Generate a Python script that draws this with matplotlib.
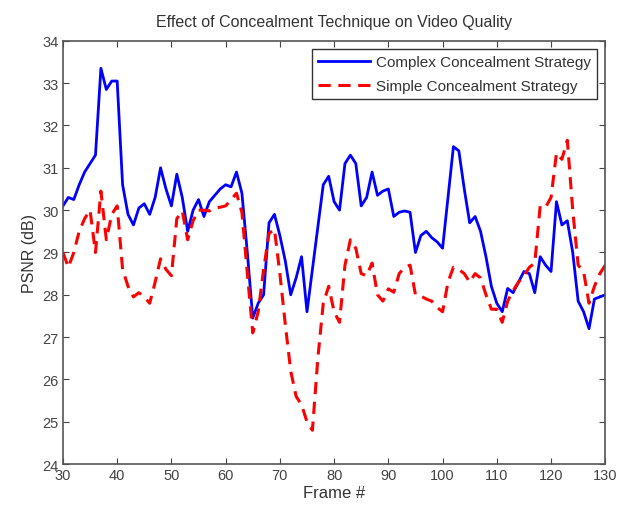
import numpy as np
import matplotlib
matplotlib.use('Agg')
import matplotlib.pyplot as plt

plt.rcParams['font.family'] = ['Liberation Sans', 'DejaVu Sans']

# 帧号
frames = np.arange(30, 131)

# 复杂隐藏策略 PSNR (dB)
complex_psnr = [30.1, 30.3, 30.25, 30.6, 30.9, 31.1, 31.3, 33.35, 32.85, 33.05,
                33.05, 30.6, 29.9, 29.65, 30.05, 30.15, 29.9, 30.3, 31.0, 30.5,
                30.1, 30.85, 30.3, 29.5, 30.0, 30.25, 29.85, 30.2, 30.35, 30.5,
                30.6, 30.55, 30.9, 30.4, 29.0, 27.45, 27.8, 28.0, 29.7, 29.9,
                29.4, 28.8, 28.0, 28.4, 28.9, 27.6, 28.6, 29.6, 30.6, 30.8,
                30.2, 30.0, 31.1, 31.3, 31.1, 30.1, 30.3, 30.9, 30.35, 30.45,
                30.5, 29.85, 29.95, 29.98, 29.95, 29.0, 29.4, 29.5, 29.35, 29.25,
                29.1, 30.3, 31.5, 31.4, 30.5, 29.7, 29.85, 29.5, 28.9, 28.2,
                27.8, 27.6, 28.15, 28.05, 28.3, 28.55, 28.5, 28.05, 28.9, 28.7,
                28.55, 30.2, 29.65, 29.75, 29.0, 27.85, 27.6, 27.2, 27.9, 27.95,
                28.0]

# 简单隐藏策略 PSNR (dB)
simple_psnr = [29.0, 28.65, 29.0, 29.5, 29.8, 30.0, 29.0, 30.45, 29.3, 29.9,
               30.1, 28.6, 28.2, 27.95, 28.05, 27.95, 27.8, 28.3, 28.85, 28.6,
               28.45, 29.8, 29.98, 29.3, 29.75, 30.0, 30.0, 29.98, 30.05, 30.07,
               30.1, 30.25, 30.4, 29.95, 28.5, 27.1, 27.6, 28.6, 29.45, 29.55,
               28.5, 27.3, 26.2, 25.6, 25.4, 25.0, 24.8, 26.5, 27.8, 28.2,
               27.6, 27.35, 28.7, 29.3, 29.1, 28.5, 28.45, 28.75, 28.0, 27.85,
               28.14, 28.06, 28.5, 28.65, 28.7, 28.0, 27.97, 27.9, 27.85, 27.7,
               27.6, 28.3, 28.65, 28.6, 28.5, 28.3, 28.5, 28.4, 28.0, 27.66,
               27.66, 27.35, 27.85, 28.1, 28.3, 28.45, 28.65, 28.75, 30.1, 30.07,
               30.3, 31.35, 31.2, 31.65, 30.0, 28.7, 28.55, 27.8, 28.2, 28.5,
               28.7]

x_ticks = np.arange(30, 131, 10)
y_ticks = np.arange(24, 35, 1)

fig = plt.figure(figsize=(6.17, 5.10), dpi=100)
ax = fig.add_axes([0.102, 0.088, 0.879, 0.830])

ax.plot(frames, complex_psnr, color='#0000ff', lw=2.0, label='Complex Concealment Strategy')
ax.plot(frames, simple_psnr, color='#ff0000', lw=2.2, ls=(0, (4, 2.5)), label='Simple Concealment Strategy')

ax.set_xlim(30, 130)
ax.set_ylim(24, 34)
ax.set_xticks(x_ticks)
ax.set_yticks(y_ticks)
ax.tick_params(direction='in', top=True, right=True, length=4, labelsize=10.5,
               colors='#444444', pad=3)
for s in ax.spines.values():
    s.set_color('#555555')
    s.set_linewidth(1.2)

ax.set_title('Effect of Concealment Technique on Video Quality', fontsize=11.5, color='#333333', pad=11)
ax.set_xlabel('Frame #', fontsize=12, color='#333333', labelpad=2)
ax.set_ylabel('PSNR (dB)', fontsize=11.5, color='#333333', labelpad=4)

leg = ax.legend(loc='upper right', fontsize=11, fancybox=False, framealpha=1,
                edgecolor='#333333', handlelength=3.4, handletextpad=0.35,
                borderaxespad=0.55, borderpad=0.4, labelspacing=0.65)
leg.get_frame().set_linewidth(1.0)
for t in leg.get_texts():
    t.set_color('#333333')

fig.savefig('out.png', dpi=100)
